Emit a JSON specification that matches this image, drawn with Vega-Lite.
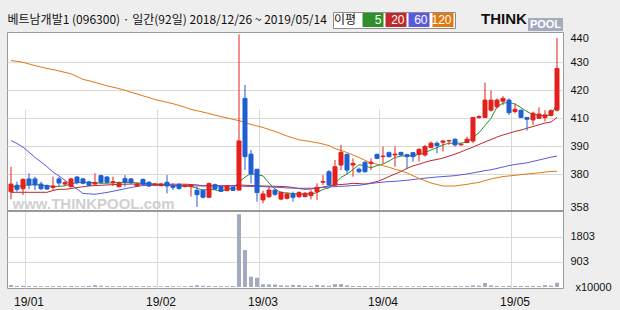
{
  "$schema": "https://vega.github.io/schema/vega-lite/v6.json",
  "width": 556,
  "height": 256,
  "autosize": {"type": "none"},
  "padding": {"left": 7, "top": 32, "right": 57, "bottom": 22},
  "background": "#eeeeee",
  "config": {
    "view": {"fill": "white", "stroke": "#9a9a9a", "strokeWidth": 1},
    "font": "Liberation Sans"
  },
  "datasets": {
    "k": [
      {"d":"2018-12-26","o":368.2,"h":382.6,"l":363.1,"c":373.3,"v":70,"ma5":372.0,"ma20":367.8,"ma60":393.9,"ma120":430.6},
      {"d":"2018-12-27","o":372.5,"h":374.9,"l":368.2,"c":369.8,"v":40,"ma5":371.5,"ma20":367.8,"ma60":391.8,"ma120":430.3},
      {"d":"2018-12-28","o":370.2,"h":377.1,"l":366.0,"c":376.4,"v":45,"ma5":372.5,"ma20":367.8,"ma60":389.6,"ma120":429.9},
      {"d":"2019-01-02","o":376.7,"h":380.2,"l":369.8,"c":372.9,"v":35,"ma5":372.5,"ma20":367.8,"ma60":387.8,"ma120":429.3},
      {"d":"2019-01-03","o":376.7,"h":378.2,"l":369.3,"c":372.7,"v":35,"ma5":373.0,"ma20":367.8,"ma60":385.9,"ma120":428.7},
      {"d":"2019-01-04","o":373.3,"h":374.9,"l":369.3,"c":370.2,"v":30,"ma5":372.4,"ma20":367.8,"ma60":384.3,"ma120":428.2},
      {"d":"2019-01-07","o":372.2,"h":373.0,"l":369.5,"c":370.0,"v":30,"ma5":372.4,"ma20":367.8,"ma60":382.6,"ma120":427.7},
      {"d":"2019-01-08","o":371.1,"h":378.2,"l":369.3,"c":372.0,"v":30,"ma5":371.6,"ma20":369.0,"ma60":380.7,"ma120":427.3},
      {"d":"2019-01-09","o":376.7,"h":378.2,"l":371.6,"c":374.0,"v":35,"ma5":371.8,"ma20":369.8,"ma60":378.7,"ma120":426.8},
      {"d":"2019-01-10","o":373.3,"h":375.5,"l":372.5,"c":374.2,"v":30,"ma5":372.1,"ma20":369.8,"ma60":375.8,"ma120":426.3},
      {"d":"2019-01-11","o":371.6,"h":377.5,"l":371.0,"c":376.7,"v":35,"ma5":373.4,"ma20":370.3,"ma60":372.9,"ma120":425.8},
      {"d":"2019-01-14","o":378.0,"h":378.5,"l":373.0,"c":374.2,"v":30,"ma5":374.2,"ma20":371.0,"ma60":370.0,"ma120":424.8},
      {"d":"2019-01-15","o":376.7,"h":377.5,"l":373.0,"c":373.8,"v":30,"ma5":374.6,"ma20":371.5,"ma60":367.0,"ma120":423.8},
      {"d":"2019-01-16","o":374.7,"h":375.5,"l":372.0,"c":372.5,"v":35,"ma5":374.3,"ma20":372.0,"ma60":366.8,"ma120":423.3},
      {"d":"2019-01-17","o":373.3,"h":380.2,"l":373.0,"c":374.2,"v":65,"ma5":374.3,"ma20":372.3,"ma60":366.5,"ma120":422.7},
      {"d":"2019-01-18","o":378.9,"h":379.5,"l":373.8,"c":374.5,"v":45,"ma5":373.8,"ma20":372.5,"ma60":367.1,"ma120":422.1},
      {"d":"2019-01-21","o":378.0,"h":378.5,"l":373.5,"c":374.5,"v":35,"ma5":373.9,"ma20":372.7,"ma60":367.7,"ma120":421.5},
      {"d":"2019-01-22","o":374.2,"h":378.2,"l":372.0,"c":374.9,"v":30,"ma5":374.1,"ma20":372.9,"ma60":368.5,"ma120":421.0},
      {"d":"2019-01-23","o":371.6,"h":375.0,"l":371.0,"c":373.8,"v":30,"ma5":374.4,"ma20":373.1,"ma60":369.3,"ma120":420.5},
      {"d":"2019-01-24","o":376.9,"h":379.3,"l":371.6,"c":374.5,"v":30,"ma5":374.4,"ma20":373.2,"ma60":370.2,"ma120":419.9},
      {"d":"2019-01-25","o":376.7,"h":377.3,"l":373.5,"c":374.2,"v":30,"ma5":374.4,"ma20":373.3,"ma60":371.0,"ma120":419.2},
      {"d":"2019-01-28","o":372.0,"h":374.0,"l":371.5,"c":373.3,"v":30,"ma5":374.1,"ma20":373.3,"ma60":371.7,"ma120":418.6},
      {"d":"2019-01-29","o":376.4,"h":377.0,"l":372.8,"c":373.3,"v":30,"ma5":373.8,"ma20":373.2,"ma60":372.3,"ma120":417.9},
      {"d":"2019-01-30","o":374.5,"h":375.0,"l":371.5,"c":372.0,"v":30,"ma5":373.5,"ma20":373.2,"ma60":372.4,"ma120":417.3},
      {"d":"2019-01-31","o":372.7,"h":373.8,"l":372.2,"c":373.3,"v":25,"ma5":373.2,"ma20":373.2,"ma60":372.4,"ma120":416.6},
      {"d":"2019-02-01","o":372.2,"h":374.0,"l":371.8,"c":373.3,"v":25,"ma5":373.0,"ma20":373.2,"ma60":372.5,"ma120":416.1},
      {"d":"2019-02-07","o":374.5,"h":379.3,"l":367.1,"c":372.0,"v":35,"ma5":372.8,"ma20":373.2,"ma60":372.5,"ma120":415.6},
      {"d":"2019-02-08","o":372.0,"h":373.8,"l":369.3,"c":371.1,"v":30,"ma5":372.3,"ma20":373.2,"ma60":372.4,"ma120":415.1},
      {"d":"2019-02-11","o":373.1,"h":373.8,"l":369.5,"c":370.4,"v":25,"ma5":372.0,"ma20":373.2,"ma60":372.3,"ma120":414.5},
      {"d":"2019-02-12","o":371.6,"h":373.0,"l":371.0,"c":372.5,"v":25,"ma5":371.9,"ma20":373.2,"ma60":372.2,"ma120":413.8},
      {"d":"2019-02-13","o":371.6,"h":373.2,"l":364.9,"c":372.5,"v":40,"ma5":371.7,"ma20":373.0,"ma60":372.1,"ma120":413.1},
      {"d":"2019-02-14","o":369.1,"h":371.6,"l":358.0,"c":366.2,"v":65,"ma5":370.5,"ma20":372.7,"ma60":372.1,"ma120":412.6},
      {"d":"2019-02-15","o":369.1,"h":369.8,"l":363.8,"c":364.5,"v":45,"ma5":369.2,"ma20":372.2,"ma60":372.0,"ma120":412.1},
      {"d":"2019-02-18","o":364.5,"h":374.3,"l":364.0,"c":373.6,"v":40,"ma5":369.9,"ma20":372.2,"ma60":372.0,"ma120":411.6},
      {"d":"2019-02-19","o":372.9,"h":373.5,"l":369.5,"c":370.0,"v":30,"ma5":369.4,"ma20":372.2,"ma60":372.0,"ma120":411.0},
      {"d":"2019-02-20","o":371.6,"h":372.0,"l":368.0,"c":368.5,"v":30,"ma5":368.6,"ma20":372.2,"ma60":372.0,"ma120":410.5},
      {"d":"2019-02-21","o":368.9,"h":372.5,"l":368.5,"c":372.0,"v":30,"ma5":369.7,"ma20":372.2,"ma60":372.0,"ma120":410.0},
      {"d":"2019-02-22","o":371.1,"h":371.6,"l":368.7,"c":369.1,"v":35,"ma5":370.6,"ma20":372.2,"ma60":372.0,"ma120":409.1},
      {"d":"2019-02-25","o":369.3,"h":441.5,"l":369.0,"c":393.6,"v":2620,"ma5":374.6,"ma20":372.7,"ma60":371.9,"ma120":408.1},
      {"d":"2019-02-26","o":417.0,"h":421.8,"l":381.4,"c":386.2,"v":1330,"ma5":377.9,"ma20":372.5,"ma60":371.8,"ma120":406.8},
      {"d":"2019-02-27","o":387.1,"h":388.6,"l":373.8,"c":380.0,"v":370,"ma5":380.2,"ma20":372.3,"ma60":371.7,"ma120":405.4},
      {"d":"2019-02-28","o":381.7,"h":381.7,"l":361.6,"c":367.6,"v":335,"ma5":379.3,"ma20":372.2,"ma60":371.7,"ma120":404.3},
      {"d":"2019-03-04","o":362.7,"h":368.9,"l":360.4,"c":366.7,"v":100,"ma5":378.8,"ma20":372.0,"ma60":371.6,"ma120":403.2},
      {"d":"2019-03-05","o":364.9,"h":371.6,"l":364.0,"c":369.3,"v":95,"ma5":374.0,"ma20":371.9,"ma60":371.4,"ma120":401.8},
      {"d":"2019-03-06","o":369.3,"h":369.5,"l":365.5,"c":366.5,"v":90,"ma5":370.0,"ma20":371.8,"ma60":371.2,"ma120":400.4},
      {"d":"2019-03-07","o":363.3,"h":368.5,"l":362.5,"c":367.8,"v":60,"ma5":367.6,"ma20":371.7,"ma60":371.0,"ma120":398.8},
      {"d":"2019-03-08","o":363.8,"h":367.5,"l":363.0,"c":366.7,"v":50,"ma5":367.4,"ma20":371.5,"ma60":370.7,"ma120":397.1},
      {"d":"2019-03-11","o":366.7,"h":368.2,"l":361.6,"c":364.5,"v":75,"ma5":367.0,"ma20":371.0,"ma60":370.6,"ma120":395.8},
      {"d":"2019-03-12","o":364.9,"h":368.5,"l":364.0,"c":367.6,"v":70,"ma5":366.6,"ma20":370.3,"ma60":370.5,"ma120":394.4},
      {"d":"2019-03-13","o":364.9,"h":368.0,"l":364.5,"c":367.1,"v":45,"ma5":366.7,"ma20":369.8,"ma60":370.5,"ma120":393.8},
      {"d":"2019-03-14","o":365.6,"h":369.3,"l":363.1,"c":367.8,"v":40,"ma5":366.7,"ma20":370.0,"ma60":370.5,"ma120":393.1},
      {"d":"2019-03-15","o":368.2,"h":373.8,"l":362.7,"c":371.1,"v":75,"ma5":367.6,"ma20":370.7,"ma60":370.8,"ma120":392.3},
      {"d":"2019-03-18","o":374.5,"h":379.3,"l":372.7,"c":375.0,"v":60,"ma5":369.7,"ma20":371.3,"ma60":371.0,"ma120":391.4},
      {"d":"2019-03-19","o":380.8,"h":381.4,"l":372.0,"c":372.7,"v":45,"ma5":370.7,"ma20":372.0,"ma60":371.3,"ma120":390.3},
      {"d":"2019-03-20","o":372.7,"h":385.0,"l":371.6,"c":382.6,"v":105,"ma5":373.8,"ma20":372.7,"ma60":371.6,"ma120":389.1},
      {"d":"2019-03-21","o":383.2,"h":390.8,"l":381.4,"c":387.7,"v":105,"ma5":377.8,"ma20":373.0,"ma60":371.8,"ma120":388.4},
      {"d":"2019-03-22","o":387.0,"h":387.3,"l":380.0,"c":381.4,"v":60,"ma5":379.9,"ma20":373.3,"ma60":372.0,"ma120":387.7},
      {"d":"2019-03-25","o":383.2,"h":385.6,"l":378.2,"c":383.8,"v":40,"ma5":381.6,"ma20":373.8,"ma60":372.3,"ma120":386.8},
      {"d":"2019-03-26","o":381.7,"h":382.3,"l":380.3,"c":380.8,"v":35,"ma5":383.3,"ma20":373.6,"ma60":372.5,"ma120":385.9},
      {"d":"2019-03-27","o":384.2,"h":384.5,"l":380.5,"c":380.8,"v":40,"ma5":382.9,"ma20":373.3,"ma60":373.1,"ma120":384.9},
      {"d":"2019-03-28","o":383.8,"h":385.6,"l":381.4,"c":384.2,"v":30,"ma5":382.2,"ma20":374.0,"ma60":373.7,"ma120":383.9},
      {"d":"2019-03-29","o":387.0,"h":387.3,"l":385.3,"c":385.6,"v":30,"ma5":383.0,"ma20":374.9,"ma60":374.2,"ma120":383.5},
      {"d":"2019-04-01","o":386.2,"h":389.8,"l":383.8,"c":386.4,"v":30,"ma5":383.6,"ma20":376.5,"ma60":374.6,"ma120":383.0},
      {"d":"2019-04-02","o":387.6,"h":388.0,"l":385.9,"c":386.2,"v":30,"ma5":384.6,"ma20":378.3,"ma60":374.9,"ma120":382.4},
      {"d":"2019-04-03","o":386.8,"h":389.8,"l":382.6,"c":387.1,"v":35,"ma5":385.9,"ma20":380.0,"ma60":375.1,"ma120":381.7},
      {"d":"2019-04-04","o":387.7,"h":388.0,"l":386.5,"c":386.8,"v":30,"ma5":386.4,"ma20":380.9,"ma60":375.5,"ma120":381.1},
      {"d":"2019-04-05","o":386.9,"h":387.2,"l":381.7,"c":386.2,"v":30,"ma5":386.5,"ma20":382.0,"ma60":375.8,"ma120":380.4},
      {"d":"2019-04-08","o":387.6,"h":387.9,"l":384.4,"c":386.2,"v":30,"ma5":386.5,"ma20":382.9,"ma60":376.3,"ma120":378.8},
      {"d":"2019-04-09","o":387.0,"h":389.2,"l":384.4,"c":388.8,"v":30,"ma5":387.0,"ma20":383.5,"ma60":376.8,"ma120":377.1},
      {"d":"2019-04-10","o":386.8,"h":390.8,"l":386.2,"c":389.8,"v":35,"ma5":387.6,"ma20":384.2,"ma60":377.2,"ma120":375.6},
      {"d":"2019-04-11","o":389.5,"h":393.2,"l":389.2,"c":392.0,"v":35,"ma5":388.6,"ma20":384.8,"ma60":377.6,"ma120":374.0},
      {"d":"2019-04-12","o":392.0,"h":393.2,"l":387.4,"c":390.3,"v":30,"ma5":389.4,"ma20":385.2,"ma60":378.0,"ma120":373.0},
      {"d":"2019-04-15","o":392.7,"h":393.8,"l":388.0,"c":393.6,"v":30,"ma5":390.9,"ma20":385.7,"ma60":378.3,"ma120":372.0},
      {"d":"2019-04-16","o":393.6,"h":394.4,"l":390.8,"c":393.8,"v":30,"ma5":391.9,"ma20":386.4,"ma60":378.6,"ma120":372.0},
      {"d":"2019-04-17","o":394.8,"h":395.5,"l":389.8,"c":390.8,"v":35,"ma5":392.1,"ma20":387.1,"ma60":378.9,"ma120":372.0},
      {"d":"2019-04-18","o":390.8,"h":391.8,"l":390.5,"c":391.3,"v":30,"ma5":392.0,"ma20":387.9,"ma60":379.5,"ma120":372.6},
      {"d":"2019-04-19","o":392.5,"h":396.7,"l":392.0,"c":394.8,"v":40,"ma5":392.9,"ma20":388.8,"ma60":380.0,"ma120":373.1},
      {"d":"2019-04-22","o":393.6,"h":410.2,"l":392.0,"c":410.2,"v":60,"ma5":396.2,"ma20":389.6,"ma60":380.4,"ma120":373.8},
      {"d":"2019-04-23","o":410.2,"h":411.0,"l":409.5,"c":410.5,"v":50,"ma5":399.5,"ma20":391.1,"ma60":380.8,"ma120":374.4},
      {"d":"2019-04-24","o":410.2,"h":422.6,"l":410.0,"c":416.4,"v":145,"ma5":404.6,"ma20":392.9,"ma60":381.2,"ma120":375.6},
      {"d":"2019-04-25","o":412.8,"h":419.8,"l":412.3,"c":416.4,"v":60,"ma5":409.7,"ma20":394.6,"ma60":381.5,"ma120":376.7},
      {"d":"2019-04-26","o":414.0,"h":417.0,"l":413.4,"c":416.4,"v":40,"ma5":414.0,"ma20":396.4,"ma60":382.0,"ma120":377.5},
      {"d":"2019-04-29","o":416.0,"h":417.8,"l":414.6,"c":417.0,"v":35,"ma5":415.3,"ma20":397.9,"ma60":382.5,"ma120":378.3},
      {"d":"2019-04-30","o":416.4,"h":417.0,"l":411.1,"c":411.9,"v":40,"ma5":415.6,"ma20":399.1,"ma60":383.0,"ma120":378.7},
      {"d":"2019-05-02","o":412.3,"h":415.2,"l":411.7,"c":413.1,"v":35,"ma5":415.0,"ma20":400.4,"ma60":383.4,"ma120":379.1},
      {"d":"2019-05-03","o":412.8,"h":413.0,"l":410.0,"c":410.2,"v":35,"ma5":413.7,"ma20":401.4,"ma60":383.7,"ma120":379.6},
      {"d":"2019-05-07","o":410.2,"h":410.3,"l":401.0,"c":409.1,"v":40,"ma5":412.3,"ma20":402.7,"ma60":384.0,"ma120":380.0},
      {"d":"2019-05-08","o":408.6,"h":412.3,"l":405.1,"c":411.7,"v":40,"ma5":411.2,"ma20":403.9,"ma60":384.5,"ma120":380.2},
      {"d":"2019-05-09","o":409.8,"h":413.8,"l":409.5,"c":411.4,"v":35,"ma5":411.1,"ma20":405.2,"ma60":385.0,"ma120":380.4},
      {"d":"2019-05-10","o":410.2,"h":412.8,"l":407.5,"c":411.1,"v":70,"ma5":410.7,"ma20":406.4,"ma60":385.5,"ma120":380.7},
      {"d":"2019-05-13","o":410.9,"h":413.1,"l":410.5,"c":412.6,"v":50,"ma5":411.2,"ma20":407.1,"ma60":386.0,"ma120":380.9},
      {"d":"2019-05-14","o":412.8,"h":440.0,"l":412.3,"c":427.7,"v":155,"ma5":414.9,"ma20":410.2,"ma60":386.4,"ma120":381.0}
    ]
  },
  "data": {"name": "k"},
  "layer": [
    {
      "layer": [
        {
          "transform": [{"fold": ["ma5", "ma20", "ma60", "ma120"], "as": ["ma", "val"]}],
          "mark": {"type": "line", "strokeWidth": 1},
          "encoding": {
            "x": {"field": "d", "type": "ordinal", "scale": {"type": "band", "paddingInner": 0.3333, "paddingOuter": 0.5, "align": 0.3333},
              "axis": {"orient": "bottom", "values": ["2019-01-02", "2019-02-01", "2019-03-04", "2019-04-01", "2019-05-02"], "labelExpr": "slice(datum.value, 2, 4) + '/' + slice(datum.value, 5, 7)", "bandPosition": -0.25, "grid": true, "gridColor": "#d9d9d9", "ticks": false, "domain": false, "labelPadding": 8, "labelFontSize": 12, "labelFont": "Liberation Sans", "labelColor": "#111111", "labelAngle": 0,
                "title": "베트남개발1 (096300) · 일간(92일) 2018/12/26 ~ 2019/05/14", "titleX": 0, "titleY": -269, "titleAlign": "left", "titleAnchor": "start", "titleBaseline": "middle", "titleFont": "Noto Sans CJK KR", "titleFontSize": 12, "titleFontWeight": "normal", "titleColor": "#111111"}},
            "y": {
              "field": "val", "type": "quantitative",
              "scale": {"domain": [355.33, 358, 380, 390, 410, 420, 430, 440, 442.5], "range": [179, 175, 142, 114, 86, 58, 30, 6, 0], "zero": false, "nice": false},
              "axis": {"orient": "right", "values": [358, 380, 390, 410, 420, 430, 440], "format": "d", "grid": true, "gridColor": "#d9d9d9", "gridOpacity": {"condition": {"test": "datum.value === 358 || datum.value === 440", "value": 0}, "value": 1}, "ticks": false, "domain": false, "labelPadding": 7, "labelFontSize": 11, "labelFont": "Liberation Sans", "labelBaseline": "middle", "labelColor": "#111111", "encode": {"labels": {"update": {"fill": {"signal": "datum.value === 440 ? '#d9730d' : datum.value === 358 ? '#2030b0' : '#111111'"}}}}, "title": "www.THINKPOOL.com", "titleAngle": 0, "titleX": -470, "titleY": 171, "titleAlign": "center", "titleBaseline": "middle", "titleColor": "#d0d0d0", "titleFontSize": 15, "titleFontWeight": "bold", "titleFont": "Liberation Sans"}
            },
            "color": {
              "field": "ma", "type": "nominal",
              "scale": {"domain": ["ma5", "ma20", "ma60", "ma120"], "range": ["#2f8f2a", "#c0282a", "#5a5ae0", "#e07a10"]},
              "legend": {
                "orient": "none", "legendX": 326, "legendY": -20, "direction": "horizontal",
                "title": "이평", "titleOrient": "left", "titleFont": "Noto Sans CJK KR", "titleFontSize": 12, "titleFontWeight": "normal", "titleColor": "#111111", "titlePadding": 9,
                "titleAnchor": "middle", "titleBaseline": "middle",
                "fillColor": "white", "strokeColor": "#8c8c8c", "padding": 1, "columnPadding": 1,
                "symbolType": "M-1.5,-1H1.5V1H-1.5Z", "symbolSize": 196, "symbolStrokeWidth": 0,
                "labelColor": "white", "labelFontSize": 12, "labelFont": "Liberation Sans", "labelAlign": "right", "labelOffset": 1.5,
                "labelExpr": "replace(datum.label, 'ma', '')",
                "encode": {"symbols": {"update": {"fill": {"scale": "color", "field": "value"}, "stroke": {"value": "transparent"}}}}
              }
            }
          }
        },
        {
          "mark": {"type": "rule", "strokeWidth": 1},
          "encoding": {
            "x": {"field": "d", "type": "ordinal", "scale": {"type": "band", "paddingInner": 0.3333, "paddingOuter": 0.5, "align": 0.3333},
              "axis": {"orient": "bottom", "values": ["2019-01-02", "2019-02-01", "2019-03-04", "2019-04-01", "2019-05-02"], "labelExpr": "slice(datum.value, 2, 4) + '/' + slice(datum.value, 5, 7)", "bandPosition": -0.25, "grid": true, "gridColor": "#d9d9d9", "ticks": false, "domain": false, "labelPadding": 8, "labelFontSize": 12, "labelFont": "Liberation Sans", "labelColor": "#111111", "labelAngle": 0,
                "title": "베트남개발1 (096300) · 일간(92일) 2018/12/26 ~ 2019/05/14", "titleX": 0, "titleY": -269, "titleAlign": "left", "titleAnchor": "start", "titleBaseline": "middle", "titleFont": "Noto Sans CJK KR", "titleFontSize": 12, "titleFontWeight": "normal", "titleColor": "#111111"}},
            "y": {"field": "l", "type": "quantitative", "scale": {"domain": [355.33, 358, 380, 390, 410, 420, 430, 440, 442.5], "range": [179, 175, 142, 114, 86, 58, 30, 6, 0], "zero": false, "nice": false},
              "axis": {"orient": "right", "values": [358, 380, 390, 410, 420, 430, 440], "format": "d", "grid": true, "gridColor": "#d9d9d9", "gridOpacity": {"condition": {"test": "datum.value === 358 || datum.value === 440", "value": 0}, "value": 1}, "ticks": false, "domain": false, "labelPadding": 7, "labelFontSize": 11, "labelFont": "Liberation Sans", "labelBaseline": "middle", "labelColor": "#111111", "encode": {"labels": {"update": {"fill": {"signal": "datum.value === 440 ? '#d9730d' : datum.value === 358 ? '#2030b0' : '#111111'"}}}}, "title": "www.THINKPOOL.com", "titleAngle": 0, "titleX": -470, "titleY": 171, "titleAlign": "center", "titleBaseline": "middle", "titleColor": "#d0d0d0", "titleFontSize": 15, "titleFontWeight": "bold", "titleFont": "Liberation Sans"}},
            "y2": {"field": "h"},
            "color": {"condition": {"test": "datum.c >= datum.o", "value": "#e3201c"}, "value": "#1f5fd2"}
          }
        },
        {
          "mark": {"type": "bar", "strokeWidth": 1},
          "encoding": {
            "x": {"field": "d", "type": "ordinal", "scale": {"type": "band", "paddingInner": 0.3333, "paddingOuter": 0.5, "align": 0.3333},
              "axis": {"orient": "bottom", "values": ["2019-01-02", "2019-02-01", "2019-03-04", "2019-04-01", "2019-05-02"], "labelExpr": "slice(datum.value, 2, 4) + '/' + slice(datum.value, 5, 7)", "bandPosition": -0.25, "grid": true, "gridColor": "#d9d9d9", "ticks": false, "domain": false, "labelPadding": 8, "labelFontSize": 12, "labelFont": "Liberation Sans", "labelColor": "#111111", "labelAngle": 0,
                "title": "베트남개발1 (096300) · 일간(92일) 2018/12/26 ~ 2019/05/14", "titleX": 0, "titleY": -269, "titleAlign": "left", "titleAnchor": "start", "titleBaseline": "middle", "titleFont": "Noto Sans CJK KR", "titleFontSize": 12, "titleFontWeight": "normal", "titleColor": "#111111"}},
            "y": {"field": "o", "type": "quantitative", "scale": {"domain": [355.33, 358, 380, 390, 410, 420, 430, 440, 442.5], "range": [179, 175, 142, 114, 86, 58, 30, 6, 0], "zero": false, "nice": false},
              "axis": {"orient": "right", "values": [358, 380, 390, 410, 420, 430, 440], "format": "d", "grid": true, "gridColor": "#d9d9d9", "gridOpacity": {"condition": {"test": "datum.value === 358 || datum.value === 440", "value": 0}, "value": 1}, "ticks": false, "domain": false, "labelPadding": 7, "labelFontSize": 11, "labelFont": "Liberation Sans", "labelBaseline": "middle", "labelColor": "#111111", "encode": {"labels": {"update": {"fill": {"signal": "datum.value === 440 ? '#d9730d' : datum.value === 358 ? '#2030b0' : '#111111'"}}}}, "title": "www.THINKPOOL.com", "titleAngle": 0, "titleX": -470, "titleY": 171, "titleAlign": "center", "titleBaseline": "middle", "titleColor": "#d0d0d0", "titleFontSize": 15, "titleFontWeight": "bold", "titleFont": "Liberation Sans"}},
            "y2": {"field": "c"},
            "fill": {"condition": {"test": "datum.c >= datum.o", "value": "#e3201c"}, "value": "#1f5fd2"},
            "stroke": {"condition": {"test": "datum.c >= datum.o", "value": "#e3201c"}, "value": "#1f5fd2"}
          }
        },
        {
          "mark": {"type": "rule", "color": "#9a9a9a", "strokeWidth": 1},
          "encoding": {
            "y": {"datum": 355.33, "type": "quantitative", "scale": {"domain": [355.33, 358, 380, 390, 410, 420, 430, 440, 442.5], "range": [179, 175, 142, 114, 86, 58, 30, 6, 0], "zero": false, "nice": false},
              "axis": {"orient": "right", "values": [358, 380, 390, 410, 420, 430, 440], "format": "d", "grid": true, "gridColor": "#d9d9d9", "gridOpacity": {"condition": {"test": "datum.value === 358 || datum.value === 440", "value": 0}, "value": 1}, "ticks": false, "domain": false, "labelPadding": 7, "labelFontSize": 11, "labelFont": "Liberation Sans", "labelBaseline": "middle", "labelColor": "#111111", "encode": {"labels": {"update": {"fill": {"signal": "datum.value === 440 ? '#d9730d' : datum.value === 358 ? '#2030b0' : '#111111'"}}}}, "title": "www.THINKPOOL.com", "titleAngle": 0, "titleX": -470, "titleY": 171, "titleAlign": "center", "titleBaseline": "middle", "titleColor": "#d0d0d0", "titleFontSize": 15, "titleFontWeight": "bold", "titleFont": "Liberation Sans"}}
          }
        }
      ]
    },
    {
      "mark": {"type": "bar"},
      "encoding": {
        "x": {"field": "d", "type": "ordinal", "scale": {"type": "band", "paddingInner": 0.3333, "paddingOuter": 0.5, "align": 0.3333},
          "axis": {"orient": "bottom", "values": ["2019-01-02", "2019-02-01", "2019-03-04", "2019-04-01", "2019-05-02"], "labelExpr": "slice(datum.value, 2, 4) + '/' + slice(datum.value, 5, 7)", "bandPosition": -0.25, "grid": true, "gridColor": "#d9d9d9", "ticks": false, "domain": false, "labelPadding": 8, "labelFontSize": 12, "labelFont": "Liberation Sans", "labelColor": "#111111", "labelAngle": 0,
            "title": "베트남개발1 (096300) · 일간(92일) 2018/12/26 ~ 2019/05/14", "titleX": 0, "titleY": -269, "titleAlign": "left", "titleAnchor": "start", "titleBaseline": "middle", "titleFont": "Noto Sans CJK KR", "titleFontSize": 12, "titleFontWeight": "normal", "titleColor": "#111111"}},
        "y": {
          "field": "v", "type": "quantitative",
          "scale": {"domain": [0, 2700], "range": [255, 180], "nice": false},
          "axis": {
            "orient": "right", "values": [0, 903, 1803], "format": "d",
            "labelExpr": "datum.value === 0 ? 'x10000' : datum.label",
            "grid": true, "gridColor": "#d9d9d9",
            "gridOpacity": {"condition": {"test": "datum.value === 0", "value": 0}, "value": 1},
            "ticks": false, "domain": false,
            "labelPadding": {"condition": {"test": "datum.value === 0", "value": 12}, "value": 7},
            "labelFontSize": 11, "labelFont": "Liberation Sans", "labelColor": "#111111", "labelBaseline": "middle", "title": null
          }
        },
        "fill": {
          "datum": "POOL", "type": "nominal",
          "scale": {"range": ["#a4abbf"]},
          "legend": {
            "orient": "none", "legendX": 474, "legendY": -25, "direction": "horizontal",
            "title": "THINK", "titleOrient": "left", "titleFont": "Liberation Sans", "titleFontSize": 15, "titleFontWeight": "bold", "titleColor": "#111111", "titlePadding": 1,
            "titleAnchor": "middle", "titleBaseline": "middle",
            "padding": 0, "symbolType": "M-1,-0.371H1V0.371H-1Z", "symbolSize": 1225, "symbolStrokeWidth": 0,
            "labelColor": "white", "labelFont": "Liberation Sans", "labelFontSize": 11, "labelFontWeight": "bold", "labelAlign": "center", "labelOffset": -17.5,
            "encode": {"symbols": {"update": {"fill": {"value": "#3a72d6"}, "stroke": {"value": "transparent"}}}}
          }
        }
      }
    }
  ],
  "resolve": {"scale": {"y": "independent"}}
}
